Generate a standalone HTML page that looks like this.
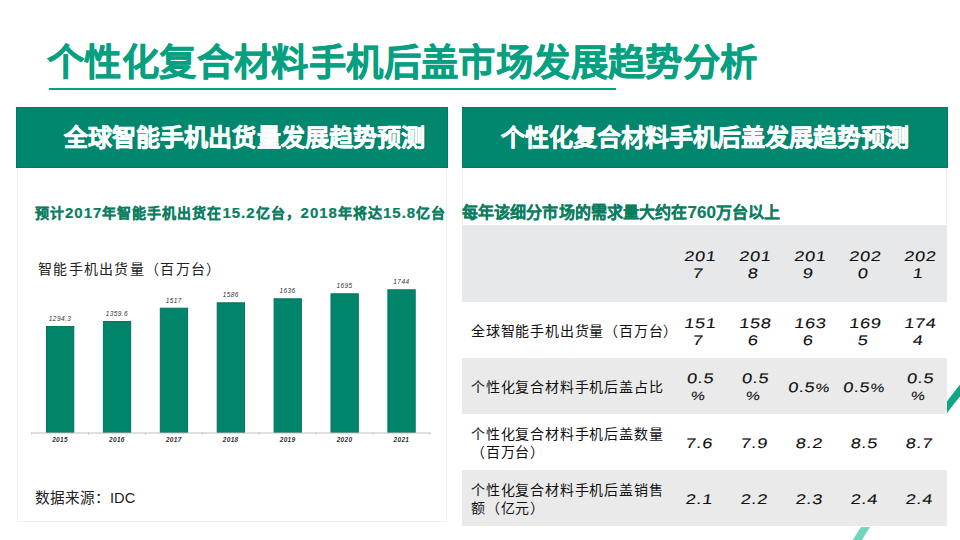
<!DOCTYPE html>
<html lang="zh-CN"><head><meta charset="utf-8">
<style>
*{margin:0;padding:0;box-sizing:border-box}
html,body{width:960px;height:540px;overflow:hidden;background:#fff}
body{position:relative;font-family:"Liberation Sans",sans-serif;color:#222}
.abs{position:absolute;white-space:nowrap}
#title{left:47px;top:35px;font-size:37.33px;line-height:56px;font-weight:bold;color:#05a07f;letter-spacing:0.4px;-webkit-text-stroke:0.5px #05a07f}
#uline{left:49px;top:88px;width:567px;height:2px;background:#05a07f}
.ph{top:107px;height:61px;background:#00876e;color:#fff;font-weight:bold;font-size:24px;line-height:61px;box-shadow:inset 0 0 0 1px #007c65;-webkit-text-stroke:0.5px #fff}
#ph1{left:16px;width:432px;padding-left:48px;letter-spacing:0.07px}
#ph2{left:462px;width:486px;padding-left:39px;letter-spacing:0.03px}
.pb{top:168px;border:1px solid #f0f0f0;border-top:none}
#pb1{left:17px;width:430px;height:354px}
#pb2{left:462px;width:485px;height:357px}
.sub{font-size:14px;font-weight:bold;color:#0b7d60;line-height:20px;letter-spacing:1px;-webkit-text-stroke:0.2px #0b7d60}
.sub .d{font-size:15px}
#sub2 .d{font-size:17px}
#sub1{left:35px;top:203px}
#sub2{left:462px;top:203px;font-size:16px;letter-spacing:0.1px}
#clabel{left:38px;top:258.5px;letter-spacing:1.3px;font-size:14px;line-height:20px;color:#222}
#src{left:35px;top:488px;font-size:14.67px;line-height:20px;color:#222}
.bar{position:absolute;width:28px;background:#00846a}
.dl{position:absolute;font-size:6px;line-height:8px;width:56px;text-align:center;color:#333;font-style:italic}
#tbl{position:absolute;left:462px;top:225px;width:485px;border-collapse:collapse;table-layout:fixed}
#tbl td{padding:3.5px 0 0 0;font-size:14px;line-height:17px;color:#111;text-align:center;vertical-align:middle}
#tbl td span.n{display:inline-block;transform:scaleX(1.3) skewX(-6deg);letter-spacing:0.5px;-webkit-text-stroke:0.1px #111}
.pc{font-size:12px}
#tbl td.h{font-size:14px;letter-spacing:0.8px;white-space:nowrap;line-height:17.5px}
#tbl td.h{text-align:left;padding:3px 0 0 9px}
#tbl tr.g td{background:#eaeaea}
#tbl tr.hd td{background:#e7e8ea}
#tbl tr.w td{background:#fff}
</style></head>
<body>
<div id="title" class="abs">个性化复合材料手机后盖市场发展趋势分析</div>
<div id="uline" class="abs"></div>

<div id="pb1" class="abs pb"></div>
<div id="pb2" class="abs pb"></div>
<div id="ph1" class="abs ph">全球智能手机出货量发展趋势预测</div>
<div id="ph2" class="abs ph">个性化复合材料手机后盖发展趋势预测</div>

<div id="sub1" class="abs sub">预计<span class="d">2017</span>年智能手机出货在<span class="d">15.2</span>亿台，<span class="d">2018</span>年将达<span class="d">15.8</span>亿台</div>
<div id="sub2" class="abs sub">每年该细分市场的需求量大约在<span class="d">760</span>万台以上</div>
<div id="clabel" class="abs">智能手机出货量（百万台）</div>
<div id="src" class="abs">数据来源：IDC</div>

<div id="chart" class="abs" style="left:0;top:0;width:460px;height:540px">
<svg width="460" height="540" style="position:absolute;left:0;top:0">
<rect x="46.5" y="326.5" width="27.3" height="106.0" fill="#00846a" stroke="#00755e" stroke-width="1"/>
<text x="60.0" y="321.0" font-size="6.5" text-anchor="middle" fill="#333" font-style="italic" letter-spacing="0.4">1294.3</text>
<text x="60.0" y="441.5" font-size="6.5" text-anchor="middle" fill="#333" font-style="italic" font-weight="bold" letter-spacing="0.3">2015</text>
<rect x="103.4" y="321.5" width="27.3" height="111.0" fill="#00846a" stroke="#00755e" stroke-width="1"/>
<text x="116.9" y="316.0" font-size="6.5" text-anchor="middle" fill="#333" font-style="italic" letter-spacing="0.4">1359.6</text>
<text x="116.9" y="441.5" font-size="6.5" text-anchor="middle" fill="#333" font-style="italic" font-weight="bold" letter-spacing="0.3">2016</text>
<rect x="160.3" y="308.2" width="27.3" height="124.3" fill="#00846a" stroke="#00755e" stroke-width="1"/>
<text x="173.8" y="302.7" font-size="6.5" text-anchor="middle" fill="#333" font-style="italic" letter-spacing="0.4">1517</text>
<text x="173.8" y="441.5" font-size="6.5" text-anchor="middle" fill="#333" font-style="italic" font-weight="bold" letter-spacing="0.3">2017</text>
<rect x="217.2" y="302.8" width="27.3" height="129.7" fill="#00846a" stroke="#00755e" stroke-width="1"/>
<text x="230.7" y="297.3" font-size="6.5" text-anchor="middle" fill="#333" font-style="italic" letter-spacing="0.4">1586</text>
<text x="230.7" y="441.5" font-size="6.5" text-anchor="middle" fill="#333" font-style="italic" font-weight="bold" letter-spacing="0.3">2018</text>
<rect x="274.1" y="298.8" width="27.3" height="133.7" fill="#00846a" stroke="#00755e" stroke-width="1"/>
<text x="287.6" y="293.3" font-size="6.5" text-anchor="middle" fill="#333" font-style="italic" letter-spacing="0.4">1636</text>
<text x="287.6" y="441.5" font-size="6.5" text-anchor="middle" fill="#333" font-style="italic" font-weight="bold" letter-spacing="0.3">2019</text>
<rect x="331.0" y="293.8" width="27.3" height="138.7" fill="#00846a" stroke="#00755e" stroke-width="1"/>
<text x="344.5" y="288.3" font-size="6.5" text-anchor="middle" fill="#333" font-style="italic" letter-spacing="0.4">1695</text>
<text x="344.5" y="441.5" font-size="6.5" text-anchor="middle" fill="#333" font-style="italic" font-weight="bold" letter-spacing="0.3">2020</text>
<rect x="387.9" y="289.8" width="27.3" height="142.7" fill="#00846a" stroke="#00755e" stroke-width="1"/>
<text x="401.4" y="284.3" font-size="6.5" text-anchor="middle" fill="#333" font-style="italic" letter-spacing="0.4">1744</text>
<text x="401.4" y="441.5" font-size="6.5" text-anchor="middle" fill="#333" font-style="italic" font-weight="bold" letter-spacing="0.3">2021</text>
<line x1="31.7" y1="433.0" x2="430.0" y2="433.0" stroke="#bfbfbf" stroke-width="1"/>
<line x1="31.7" y1="432.5" x2="31.7" y2="434.5" stroke="#bfbfbf" stroke-width="1"/>
<line x1="88.6" y1="432.5" x2="88.6" y2="434.5" stroke="#bfbfbf" stroke-width="1"/>
<line x1="145.5" y1="432.5" x2="145.5" y2="434.5" stroke="#bfbfbf" stroke-width="1"/>
<line x1="202.4" y1="432.5" x2="202.4" y2="434.5" stroke="#bfbfbf" stroke-width="1"/>
<line x1="259.3" y1="432.5" x2="259.3" y2="434.5" stroke="#bfbfbf" stroke-width="1"/>
<line x1="316.2" y1="432.5" x2="316.2" y2="434.5" stroke="#bfbfbf" stroke-width="1"/>
<line x1="373.1" y1="432.5" x2="373.1" y2="434.5" stroke="#bfbfbf" stroke-width="1"/>
<line x1="430.0" y1="432.5" x2="430.0" y2="434.5" stroke="#bfbfbf" stroke-width="1"/>
</svg>
</div>

<table id="tbl">
<colgroup><col style="width:210px"><col style="width:55px"><col style="width:55px"><col style="width:55px"><col style="width:55px"><col style="width:55px"></colgroup>
<tr class="g hd" style="height:77px"><td class="h"></td><td><span class="n">201<br>7</span></td><td><span class="n">201<br>8</span></td><td><span class="n">201<br>9</span></td><td><span class="n">202<br>0</span></td><td><span class="n">202<br>1</span></td></tr>
<tr class="w" style="height:56px"><td class="h">全球智能手机出货量（百万台）</td><td><span class="n">151<br>7</span></td><td><span class="n">158<br>6</span></td><td><span class="n">163<br>6</span></td><td><span class="n">169<br>5</span></td><td><span class="n">174<br>4</span></td></tr>
<tr class="g" style="height:56px"><td class="h">个性化复合材料手机后盖占比</td><td><span class="n">0.5<br><span class="pc">%</span></span></td><td><span class="n">0.5<br><span class="pc">%</span></span></td><td><span class="n">0.5<span class="pc">%</span></span></td><td><span class="n">0.5<span class="pc">%</span></span></td><td><span class="n">0.5<br><span class="pc">%</span></span></td></tr>
<tr class="w" style="height:56px"><td class="h">个性化复合材料手机后盖数量<br>（百万台）</td><td><span class="n">7.6</span></td><td><span class="n">7.9</span></td><td><span class="n">8.2</span></td><td><span class="n">8.5</span></td><td><span class="n">8.7</span></td></tr>
<tr class="g" style="height:56px"><td class="h">个性化复合材料手机后盖销售<br>额（亿元）</td><td><span class="n">2.1</span></td><td><span class="n">2.2</span></td><td><span class="n">2.3</span></td><td><span class="n">2.4</span></td><td><span class="n">2.4</span></td></tr>
</table>
<svg width="960" height="540" style="position:absolute;left:0;top:0">
<polygon points="947,401.3 960,384.6 960,396.3 947,413" fill="#12a583"/>
<polygon points="861,527 870,527 861.9,540 852.7,540" fill="#6dd6bd"/>
</svg>
</body></html>
